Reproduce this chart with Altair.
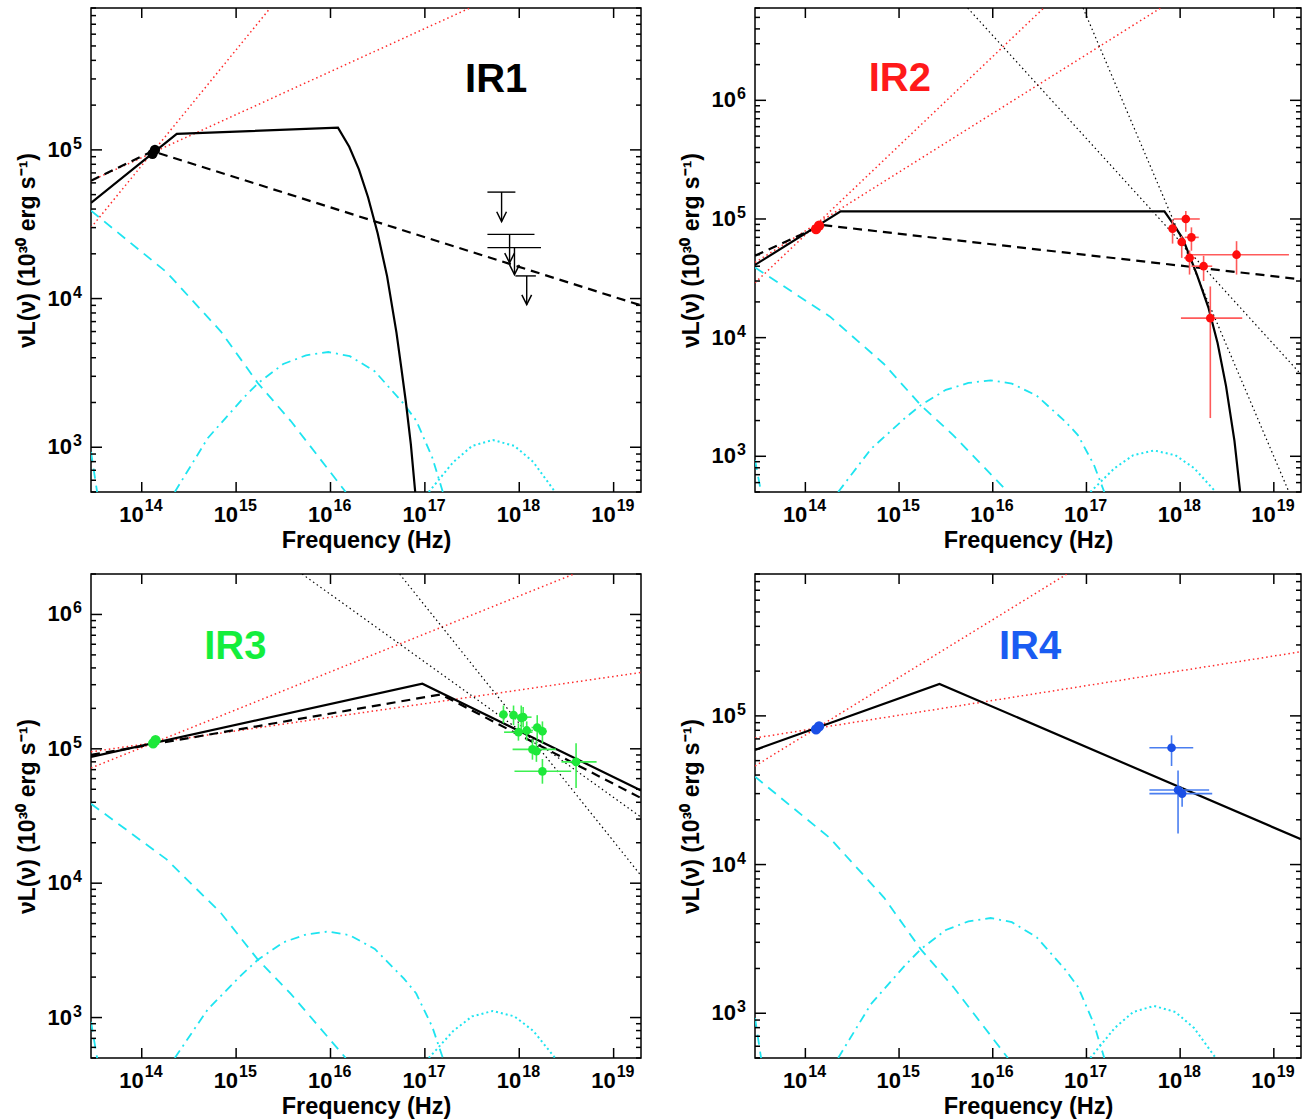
import altair as alt
import pandas as pd

FONT = "Liberation Sans"
X_DOMAIN = [2.9e13, 1.95e19]
X_TICKS = [1e14, 1e15, 1e16, 1e17, 1e18, 1e19]
X_TICK_EXP = ["14", "15", "16", "17", "18", "19"]

# ---------------- common cyan model components ----------------
CYAN_DASH_X = [2.9e13, 1.82e14, 6.9e14, 1.7e15, 3.8e15, 1.45e16]
CYAN_DASH_Y = [3.9e4, 1.51e4, 6.0e3, 2.7e3, 1.5e3, 500]
CYAN_COLD_X = [2.9e13, 3.4e13]
CYAN_COLD_Y = [930, 480]
CYAN_DD_X = [2.24e14, 5.0e14, 1.15e15, 1.7e15, 3.16e15, 5.5e15, 9.5e15, 1.6e16, 2.95e16, 6.0e16, 8.1e16, 1.2e17, 1.55e17]
CYAN_DD_Y = [500, 1150, 2090, 2690, 3630, 4150, 4370, 4100, 3240, 1950, 1510, 850, 500]
CYAN_DOT_X = [1.1e17, 2.0e17, 3.16e17, 5.25e17, 8.9e17, 1.41e18, 2.4e18]
CYAN_DOT_Y = [500, 795, 1020, 1120, 1020, 795, 500]

# ---------------- IR1 ----------------
IR1_SOLID_X = [2.9e13, 2.35e14, 1.2e16, 1.58e16, 2.0e16, 2.5e16, 3.16e16, 3.98e16, 5.0e16, 5.6e16, 6.3e16, 7.1e16, 7.9e16]
IR1_SOLID_Y = [4.4e4, 1.28e5, 1.41e5, 1.05e5, 7.4e4, 4.8e4, 2.75e4, 1.41e4, 5.9e3, 3.5e3, 2.0e3, 1.05e3, 500]
IR1_DASH_X = [2.9e13, 1.3e14, 1.95e19]
IR1_DASH_Y = [6.2e4, 9.8e4, 9.0e3]
IR1_RED1_X = [2.9e13, 2.3e15]
IR1_RED1_Y = [3.0e4, 9.0e5]
IR1_RED2_X = [2.9e13, 3.0e17]
IR1_RED2_Y = [6.2e4, 9.0e5]
IR1_IR_X = [1.3e14, 1.38e14]
IR1_IR_Y = [9.4e4, 1.0e5]
IR1_UL_X = [6.5e17, 7.9e17, 8.9e17, 1.2e18]
IR1_UL_XLO = [4.6e17, 4.6e17, 4.6e17, 9.1e17]
IR1_UL_XHI = [9.1e17, 1.45e18, 1.7e18, 1.5e18]
IR1_UL_Y = [5.2e4, 2.7e4, 2.2e4, 1.42e4]
IR1_UL_TIP = [3.3e4, 1.74e4, 1.45e4, 9.1e3]

# ---------------- IR2 ----------------
IR2_SOLID_X = [2.9e13, 2.38e14, 6.8e17, 8.5e17, 1.07e18, 1.51e18, 2.0e18, 2.51e18, 3.09e18, 3.8e18, 4.37e18]
IR2_SOLID_Y = [4.1e4, 1.16e5, 1.16e5, 9.0e4, 6.8e4, 3.4e4, 1.8e4, 9.0e3, 3.9e3, 1.35e3, 500]
IR2_DASH_X = [2.9e13, 1.5e14, 1.95e19]
IR2_DASH_Y = [4.9e4, 8.9e4, 3.1e4]
IR2_RED1_X = [2.9e13, 3.5e16]
IR2_RED1_Y = [2.9e4, 6.0e6]
IR2_RED2_X = [2.9e13, 6.2e17]
IR2_RED2_Y = [4.3e4, 6.0e6]
IR2_BDOT1_X = [5.4e15, 1.95e19]
IR2_BDOT1_Y = [6.0e6, 4.9e3]
IR2_BDOT2_X = [9.2e16, 1.45e19]
IR2_BDOT2_Y = [6.0e6, 500]
IR2_IR_X = [1.3e14, 1.4e14]
IR2_IR_Y = [8.2e4, 8.8e4]
IR2_X = [1.15e18, 8.3e17, 1.32e18, 1.04e18, 1.26e18, 1.78e18, 4.0e18, 2.1e18]
IR2_XLO = [8.5e17, 7.5e17, 1.12e18, 9.5e17, 1.1e18, 1.32e18, 1.32e18, 1.02e18]
IR2_XHI = [1.62e18, 9.2e17, 1.58e18, 1.15e18, 1.45e18, 2.2e18, 1.45e19, 4.6e18]
IR2_Y = [1.0e5, 8.3e4, 7.0e4, 6.4e4, 4.7e4, 4.0e4, 5.0e4, 1.46e4]
IR2_YLO = [7.8e4, 6.2e4, 5.4e4, 4.7e4, 3.4e4, 3.0e4, 3.4e4, 2.1e3]
IR2_YHI = [1.17e5, 9.8e4, 8.5e4, 7.2e4, 5.4e4, 4.9e4, 6.5e4, 2.7e4]

# ---------------- IR3 ----------------
IR3_SOLID_X = [2.9e13, 9.4e16, 1.95e19]
IR3_SOLID_Y = [8.7e4, 3.05e5, 4.9e4]
IR3_DASH_X = [2.9e13, 1.48e17, 1.95e19]
IR3_DASH_Y = [9.0e4, 2.54e5, 4.3e4]
IR3_RED1_X = [2.9e13, 3.8e18]
IR3_RED1_Y = [7.2e4, 2.0e6]
IR3_RED2_X = [2.9e13, 1.95e19]
IR3_RED2_Y = [9.5e4, 3.7e5]
IR3_BDOT1_X = [5.0e15, 1.95e19]
IR3_BDOT1_Y = [2.0e6, 3.1e4]
IR3_BDOT2_X = [5.4e16, 1.95e19]
IR3_BDOT2_Y = [2.0e6, 1.14e4]
IR3_IR_X = [1.32e14, 1.4e14]
IR3_IR_Y = [1.1e5, 1.16e5]
IR3_X = [6.8e17, 8.7e17, 1.05e18, 1.1e18, 9.8e17, 1.2e18, 1.55e18, 1.76e18, 1.38e18, 1.52e18, 4.0e18, 1.76e18]
IR3_XLO = [6.2e17, 8.0e17, 9.8e17, 9.5e17, 6.9e17, 1.05e18, 1.35e18, 1.6e18, 8.5e17, 1.4e18, 2.8e18, 8.9e17]
IR3_XHI = [7.5e17, 9.5e17, 1.12e18, 1.35e18, 1.38e18, 1.4e18, 1.8e18, 1.95e18, 2.45e18, 1.65e18, 6.6e18, 3.55e18]
IR3_Y = [1.8e5, 1.78e5, 1.7e5, 1.72e5, 1.33e5, 1.37e5, 1.44e5, 1.35e5, 9.9e4, 9.6e4, 8.0e4, 6.8e4]
IR3_YLO = [1.55e5, 1.5e5, 1.35e5, 1.45e5, 1.15e5, 1.15e5, 1.17e5, 1.1e5, 8.3e4, 8.0e4, 5.1e4, 5.5e4]
IR3_YHI = [2.1e5, 2.1e5, 2.1e5, 2.05e5, 1.55e5, 1.6e5, 1.78e5, 1.6e5, 1.18e5, 1.15e5, 1.1e5, 8.4e4]

# ---------------- IR4 ----------------
IR4_SOLID_X = [2.9e13, 2.7e15, 1.95e19]
IR4_SOLID_Y = [5.9e4, 1.64e5, 1.48e4]
IR4_RED1_X = [2.9e13, 6.2e16]
IR4_RED1_Y = [4.6e4, 9.0e5]
IR4_RED2_X = [2.9e13, 1.95e19]
IR4_RED2_Y = [7.1e4, 2.7e5]
IR4_IR_X = [1.3e14, 1.4e14]
IR4_IR_Y = [8.1e4, 8.5e4]
IR4_X = [8.1e17, 9.5e17, 1.05e18]
IR4_XLO = [4.7e17, 4.7e17, 4.7e17]
IR4_XHI = [1.38e18, 2.04e18, 2.2e18]
IR4_Y = [6.1e4, 3.17e4, 3.0e4]
IR4_YLO = [4.6e4, 1.62e4, 2.45e4]
IR4_YHI = [7.4e4, 4.3e4, 3.3e4]

# ---------------- panel labels ----------------
LABELS = ["IR1", "IR2", "IR3", "IR4"]
LABEL_X = [5.7e17, 1.02e15, 9.8e14, 2.5e16]
LABEL_Y = [2.95e5, 1.5e6, 5.7e5, 2.9e5]
LABEL_COLORS = ["#000000", "#ff1a1a", "#14ee3c", "#1a5cf2"]
Y_MAX = [9.0e5, 6.0e6, 2.0e6, 9.0e5]

CYAN = "#1ee4f0"
RED_DOT = "#ff2a2a"
X_TITLE = "Frequency (Hz)"
Y_TITLE = "νL(ν) (10³⁰ erg s⁻¹)"


def panel(idx, W, H, lines, ir_pts, pts=None, ul=None, pt_color="black", err_color="black"):
    ymax = Y_MAX[idx]
    xs = alt.Scale(type="log", domain=X_DOMAIN, nice=False)
    ys = alt.Scale(type="log", domain=[500, ymax], nice=False)
    y_exps = [e for e in range(3, 8) if 500 <= 10.0 ** e <= ymax]
    y_dec = [10.0 ** e for e in y_exps]
    y_min = [m * 10.0 ** e for e in range(2, 7) for m in range(2, 10) if 500 <= m * 10.0 ** e <= ymax]
    AX = alt.Axis(values=X_TICKS, labels=False, ticks=False, domain=False, grid=False,
                  title=X_TITLE, titleFont=FONT, titleFontSize=23.5, titleFontWeight="bold",
                  titlePadding=36, titleColor="black")
    AY = alt.Axis(values=y_dec, labels=False, ticks=False, domain=False, grid=False,
                  title=Y_TITLE, titleFont=FONT, titleFontSize=23, titleFontWeight="bold",
                  titlePadding=52, titleColor="black")
    X = lambda f="x": alt.X(f"{f}:Q", scale=xs, axis=AX)
    Y = lambda f="y": alt.Y(f"{f}:Q", scale=ys, axis=AY)

    layers = []
    for xv, yv, color, width, dash in lines:
        df = pd.DataFrame({"x": xv, "y": yv, "i": list(range(len(xv)))})
        kw = dict(clip=True, color=color, strokeWidth=width)
        if dash:
            kw["strokeDash"] = dash
        layers.append(alt.Chart(df).mark_line(**kw).encode(x=X(), y=Y(), order="i:Q"))

    # inward ticks
    xt = pd.DataFrame({"x": X_TICKS, "b": ["10"] * len(X_TICKS), "e": X_TICK_EXP})
    layers.append(alt.Chart(xt).mark_rule(color="black", strokeWidth=1.5).encode(
        x=X(), y=alt.value(H), y2=alt.value(H - 10)))
    layers.append(alt.Chart(xt).mark_rule(color="black", strokeWidth=1.5).encode(
        x=X(), y=alt.value(0), y2=alt.value(10)))
    yt = pd.DataFrame({"y": y_dec, "b": ["10"] * len(y_dec), "e": [str(e) for e in y_exps]})
    ym = pd.DataFrame({"y": y_min})
    for d, L in ((yt, 11), (ym, 5)):
        layers.append(alt.Chart(d).mark_rule(color="black", strokeWidth=1.5).encode(
            y=Y(), x=alt.value(0), x2=alt.value(L)))
        layers.append(alt.Chart(d).mark_rule(color="black", strokeWidth=1.5).encode(
            y=Y(), x=alt.value(W), x2=alt.value(W - L)))

    # tick labels: base "10" plus raised exponent
    txt = dict(font=FONT, fontWeight="bold", color="black", baseline="alphabetic")
    layers.append(alt.Chart(xt).mark_text(fontSize=22, align="right", dx=2, **txt).encode(
        x=X(), y=alt.value(H + 30), text="b:N"))
    layers.append(alt.Chart(xt).mark_text(fontSize=16, align="left", dx=3, **txt).encode(
        x=X(), y=alt.value(H + 19), text="e:N"))
    layers.append(alt.Chart(yt).mark_text(fontSize=22, align="right", dy=7, **txt).encode(
        y=Y(), x=alt.value(-19), text="b:N"))
    layers.append(alt.Chart(yt).mark_text(fontSize=16, align="left", dy=-1, **txt).encode(
        y=Y(), x=alt.value(-18), text="e:N"))

    if pts is not None:
        xv, xlo, xhi, yv, ylo, yhi = pts
        df = pd.DataFrame({"x": xv, "xlo": xlo, "xhi": xhi, "y": yv, "ylo": ylo, "yhi": yhi})
        layers.append(alt.Chart(df).mark_rule(color=err_color, strokeWidth=1.6, clip=True).encode(
            x=X(), y=Y("ylo"), y2="yhi:Q"))
        layers.append(alt.Chart(df).mark_rule(color=err_color, strokeWidth=1.6, clip=True).encode(
            x=X("xlo"), x2="xhi:Q", y=Y()))
        layers.append(alt.Chart(df).mark_circle(color=pt_color, size=75, opacity=1).encode(
            x=X(), y=Y()))

    if ul is not None:
        xv, xlo, xhi, yv, tip = ul
        df = pd.DataFrame({"x": xv, "xlo": xlo, "xhi": xhi, "y": yv, "tip": tip})
        layers.append(alt.Chart(df).mark_rule(color="black", strokeWidth=1.4).encode(
            x=X("xlo"), x2="xhi:Q", y=Y()))
        layers.append(alt.Chart(df).mark_rule(color="black", strokeWidth=1.4).encode(
            x=X(), y=Y(), y2="tip:Q"))
        layers.append(alt.Chart(df).mark_point(shape="M -0.5 -1 L 0 0 L 0.5 -1", filled=False,
                                               size=380, color="black", strokeWidth=1.5,
                                               opacity=1).encode(x=X(), y=Y("tip")))

    irx, iry = ir_pts
    layers.append(alt.Chart(pd.DataFrame({"x": irx, "y": iry})).mark_circle(
        color=pt_color, size=105, opacity=1).encode(x=X(), y=Y()))

    lab = pd.DataFrame({"x": [LABEL_X[idx]], "y": [LABEL_Y[idx]], "t": [LABELS[idx]]})
    layers.append(alt.Chart(lab).mark_text(font=FONT, fontSize=40, fontWeight="bold",
                                           color=LABEL_COLORS[idx], align="center",
                                           baseline="middle").encode(x=X(), y=Y(), text="t:N"))

    return alt.layer(*layers).properties(width=W, height=H)


def cyan_lines():
    return [
        (CYAN_DASH_X, CYAN_DASH_Y, CYAN, 1.8, [10, 7]),
        (CYAN_COLD_X, CYAN_COLD_Y, CYAN, 1.8, [10, 7]),
        (CYAN_DD_X, CYAN_DD_Y, CYAN, 1.8, [9, 5, 2, 5]),
        (CYAN_DOT_X, CYAN_DOT_Y, CYAN, 2.0, [2, 3]),
    ]


H = 484
p1 = panel(0, 550, H, cyan_lines() + [
    (IR1_RED1_X, IR1_RED1_Y, RED_DOT, 1.5, [1.5, 3]),
    (IR1_RED2_X, IR1_RED2_Y, RED_DOT, 1.5, [1.5, 3]),
    (IR1_DASH_X, IR1_DASH_Y, "black", 2.2, [9, 6]),
    (IR1_SOLID_X, IR1_SOLID_Y, "black", 2.2, None),
], (IR1_IR_X, IR1_IR_Y),
    ul=(IR1_UL_X, IR1_UL_XLO, IR1_UL_XHI, IR1_UL_Y, IR1_UL_TIP), pt_color="black")

p2 = panel(1, 546, H, cyan_lines() + [
    (IR2_RED1_X, IR2_RED1_Y, RED_DOT, 1.5, [1.5, 3]),
    (IR2_RED2_X, IR2_RED2_Y, RED_DOT, 1.5, [1.5, 3]),
    (IR2_BDOT1_X, IR2_BDOT1_Y, "black", 1.2, [1.5, 3]),
    (IR2_BDOT2_X, IR2_BDOT2_Y, "black", 1.2, [1.5, 3]),
    (IR2_DASH_X, IR2_DASH_Y, "black", 2.2, [9, 6]),
    (IR2_SOLID_X, IR2_SOLID_Y, "black", 2.2, None),
], (IR2_IR_X, IR2_IR_Y),
    pts=(IR2_X, IR2_XLO, IR2_XHI, IR2_Y, IR2_YLO, IR2_YHI), pt_color="#ff0d0d", err_color="#ff5a5a")

p3 = panel(2, 550, H, cyan_lines() + [
    (IR3_RED1_X, IR3_RED1_Y, RED_DOT, 1.5, [1.5, 3]),
    (IR3_RED2_X, IR3_RED2_Y, RED_DOT, 1.5, [1.5, 3]),
    (IR3_BDOT1_X, IR3_BDOT1_Y, "black", 1.2, [1.5, 3]),
    (IR3_BDOT2_X, IR3_BDOT2_Y, "black", 1.2, [1.5, 3]),
    (IR3_DASH_X, IR3_DASH_Y, "black", 2.2, [9, 6]),
    (IR3_SOLID_X, IR3_SOLID_Y, "black", 2.2, None),
], (IR3_IR_X, IR3_IR_Y),
    pts=(IR3_X, IR3_XLO, IR3_XHI, IR3_Y, IR3_YLO, IR3_YHI), pt_color="#1ee83a", err_color="#3cf050")

p4 = panel(3, 546, H, cyan_lines() + [
    (IR4_RED1_X, IR4_RED1_Y, RED_DOT, 1.5, [1.5, 3]),
    (IR4_RED2_X, IR4_RED2_Y, RED_DOT, 1.5, [1.5, 3]),
    (IR4_SOLID_X, IR4_SOLID_Y, "black", 2.2, None),
], (IR4_IR_X, IR4_IR_Y),
    pts=(IR4_X, IR4_XLO, IR4_XHI, IR4_Y, IR4_YLO, IR4_YHI), pt_color="#1a4fe6", err_color="#4a7ef0")

chart = alt.concat(p1, p2, p3, p4, columns=2, spacing={"row": 82, "column": 114},
                   bounds="flush").properties(
    padding={"left": 15, "top": 6, "right": 5, "bottom": 5}
).configure(background="white").configure_view(stroke="black", strokeWidth=1.5)

chart.save("out.html", embed_options={"renderer": "svg", "actions": False})
